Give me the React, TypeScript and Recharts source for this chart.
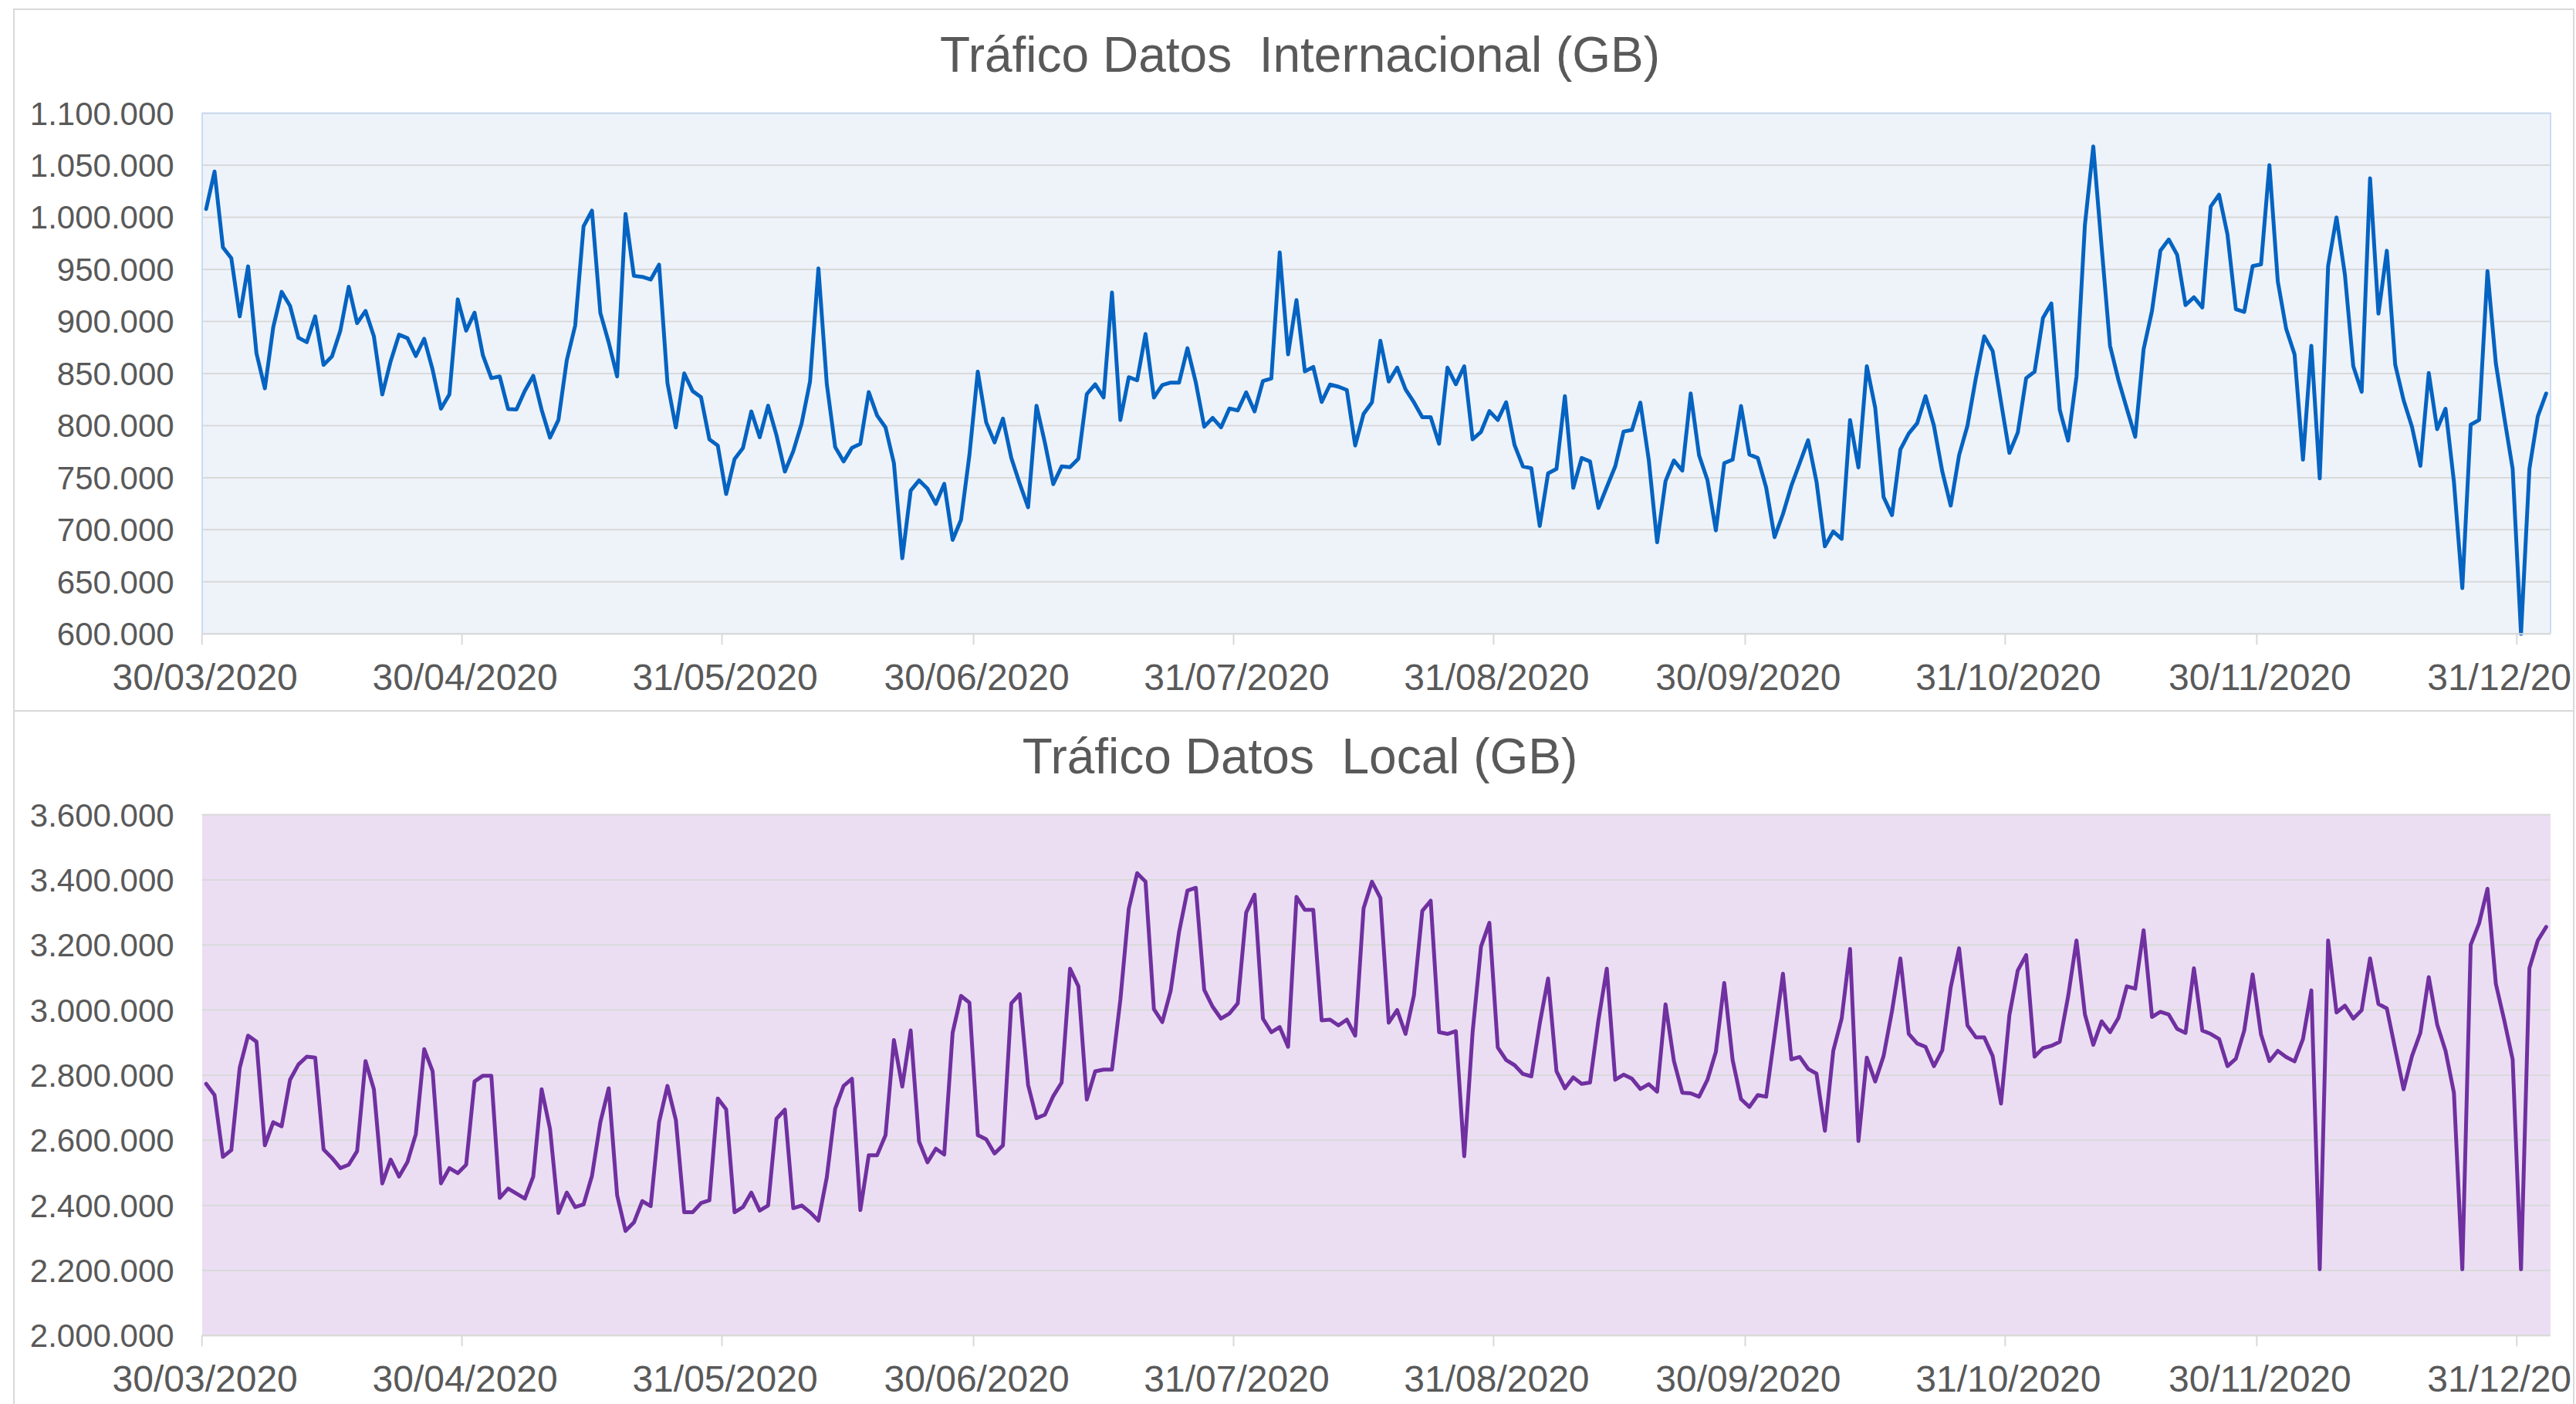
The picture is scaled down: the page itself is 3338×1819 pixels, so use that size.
import { LineChart, Line, XAxis, YAxis, CartesianGrid } from 'recharts'

// day index 0 = 30/03/2020, one point per day
const tickDays = [0, 31, 62, 92, 123, 154, 184, 215, 245, 276]
const tickLabels = [
  '30/03/2020', '30/04/2020', '31/05/2020', '30/06/2020', '31/07/2020',
  '31/08/2020', '30/09/2020', '31/10/2020', '30/11/2020', '31/12/2020',
]

const intlTicks = [600000, 650000, 700000, 750000, 800000, 850000, 900000, 950000, 1000000, 1050000, 1100000]
const localTicks = [2000000, 2200000, 2400000, 2600000, 2800000, 3000000, 3200000, 3400000, 3600000]

const internacional = [
  1008000, 1043900, 971200, 960700, 904900, 952900, 869400, 835800, 894500, 928400,
  915000, 884400, 880100, 904900, 858300, 866400, 891200, 933300, 898400, 910100,
  885700, 829900, 861900, 887300, 884000, 866800, 883400, 853700, 816200, 829900,
  921200, 891200, 908500, 867400, 845600, 847200, 815900, 815500, 833500, 847800,
  815200, 788500, 805400, 862900, 896100, 991400, 1006400, 908200, 879800, 847200,
  1003100, 943800, 942800, 940200, 954500, 841000, 798300, 850100, 833200, 827300,
  786800, 780900, 734300, 767900, 778400, 813600, 788800, 819100, 790800, 755900,
  775400, 802200, 842300, 950900, 840000, 779300, 765600, 778700, 782600, 832200,
  809700, 798300, 764000, 672700, 737600, 747400, 739600, 724900, 744100, 690300,
  709500, 771500, 851800, 803200, 783900, 806700, 768900, 744400, 721600, 819100,
  783600, 743800, 760800, 760100, 768300, 830300, 839700, 827000, 927800, 805400,
  846500, 843500, 887900, 827000, 839000, 841300, 841300, 874300, 841300, 798900,
  807400, 798300, 816500, 814600, 831900, 813600, 842900, 845200, 966300, 868400,
  920600, 852100, 856300, 822700, 839400, 837400, 834200, 780900, 811300, 822400,
  881400, 842300, 855700, 834800, 822400, 808100, 808100, 782600, 855700, 839700,
  857000, 786800, 794000, 813900, 805400, 822400, 781300, 760800, 759100, 703700,
  754200, 758500, 828300, 740200, 768900, 765600, 720900, 741000, 760800, 794300,
  795900, 822100, 767300, 688000, 746700, 766600, 756800, 830900, 771500, 747700,
  699400, 764000, 767300, 818800, 772200, 768900, 740500, 692900, 715100, 742200,
  764000, 785900, 746100, 684100, 698400, 691300, 805400, 759800, 857000, 817200,
  731400, 714100, 777100, 792400, 802200, 828300, 799900, 755900, 723200, 771500,
  799900, 845600, 885700, 871700, 822700, 773800, 793400, 845600, 851800, 903300,
  917300, 815200, 785600, 847200, 992400, 1068000, 971100, 876600, 843900, 816200,
  789300, 873300, 910100, 967900, 978700, 964000, 915700, 923200, 913400, 1010300,
  1021700, 983500, 911800, 909200, 953200, 954800, 1050100, 938500, 892900, 868400,
  767300, 876600, 749300, 953200, 999900, 945100, 857000, 832500, 1037400, 907500,
  967900, 858600, 824400, 798900, 761400, 850500, 796600, 816200, 746100, 644000,
  800900, 805400, 948300, 859600, 808100, 758500, 600000, 758500, 809000, 830900,
]

const local = [
  2773300, 2738900, 2548900, 2569800, 2822400, 2921500, 2902700, 2584400, 2655400, 2642800,
  2785800, 2832800, 2856800, 2853700, 2571900, 2545800, 2514400, 2524900, 2566600, 2843200,
  2756600, 2467500, 2540500, 2488400, 2533200, 2618800, 2879800, 2811900, 2467500, 2514400,
  2498800, 2524900, 2780600, 2798400, 2798400, 2422600, 2451800, 2436200, 2420500, 2488400,
  2756600, 2634500, 2376700, 2439300, 2394400, 2402800, 2490500, 2655400, 2759700, 2431000,
  2321300, 2347400, 2413200, 2397500, 2655400, 2767000, 2662700, 2378700, 2378700, 2406900,
  2415300, 2728400, 2695000, 2378700, 2394400, 2439300, 2383900, 2399600, 2665800, 2694000,
  2391300, 2399600, 2378700, 2352700, 2486300, 2697100, 2767000, 2789000, 2385500, 2554100,
  2554100, 2615700, 2907900, 2764900, 2937200, 2595900, 2532200, 2574000, 2556200, 2929900,
  3043600, 3022800, 2615700, 2603200, 2559300, 2584400, 3020700, 3048900, 2770200, 2667900,
  2678300, 2735700, 2777500, 3127200, 3072900, 2725300, 2811900, 2817200, 2817200, 3031100,
  3310900, 3420500, 3394400, 3002900, 2963300, 3059300, 3239900, 3367200, 3375600, 3062400,
  3010300, 2973700, 2989400, 3020700, 3299400, 3354700, 2973700, 2932000, 2947600, 2887100,
  3347400, 3307700, 3307700, 2968500, 2970600, 2952800, 2970600, 2921500, 3312900, 3394400,
  3344300, 2961200, 2999800, 2926700, 3044700, 3304600, 3335900, 2932000, 2926700, 2935100,
  2551000, 2932000, 3195000, 3268100, 2885000, 2846400, 2830700, 2803600, 2796300, 2958100,
  3096900, 2811900, 2759700, 2793100, 2773300, 2777500, 2968500, 3127200, 2785800, 2801500,
  2789000, 2757600, 2772300, 2749300, 3017600, 2843200, 2746200, 2744100, 2733700, 2785800,
  2871400, 3083300, 2846400, 2726300, 2702300, 2738900, 2733700, 2921500, 3111500, 2848500,
  2855800, 2819300, 2804600, 2629300, 2874600, 2973700, 3187700, 2597900, 2853700, 2780600,
  2858900, 2996700, 3158500, 2926700, 2897500, 2887100, 2827600, 2876600, 3069800, 3189800,
  2952800, 2916300, 2916300, 2858900, 2712800, 2984200, 3121900, 3168900, 2856800, 2882900,
  2890200, 2902700, 3041600, 3213800, 2987300, 2893300, 2965400, 2932000, 2975800, 3072900,
  3065600, 3245100, 2978900, 2994600, 2986200, 2942400, 2929900, 3128200, 2937200, 2926700,
  2911100, 2827600, 2850600, 2937200, 3109400, 2924700, 2843200, 2874600, 2855800, 2842200,
  2911100, 3060400, 2203400, 3213800, 2992500, 3013400, 2973700, 2999800, 3158500, 3018600,
  3005000, 2879800, 2756600, 2858900, 2929900, 3101100, 2956000, 2874600, 2746200, 2203400,
  3200200, 3266000, 3372500, 3080200, 2968500, 2848500, 2203400, 3128200, 3213800, 3255500,
]

const TEXT = '#595959'
const GRID = '#D9D9D9'

// plot box inside each chart block (page px)
const PLOT_LEFT = 261.7
const PLOT_TOP = 146.6
const PLOT_W = 3043.1
const PLOT_H = 674.7
const CHART_W = 3333
const CHART_H = 921
const Y_AXIS_W = 200
const X_AXIS_H = 80

const formatGB = (v: number) => String(v).replace(/\B(?=(\d{3})+(?!\d))/g, '.')
const formatDay = (d: number) => tickLabels[tickDays.indexOf(d)] ?? ''

interface TraficoChartProps {
  title: string
  values: number[]
  yTicks: number[]
  color: string
  plotFill: string
  plotBorder?: string
  offsetY: number
}

function TraficoChart({ title, values, yTicks, color, plotFill, plotBorder, offsetY }: TraficoChartProps) {
  const data = values.map((v, i) => ({ t: i + 0.5, v }))

  return (
    <>
      <div
        style={{
          position: 'absolute', left: 17, top: offsetY + 11, width: 3319, height: 911,
          border: `2px solid ${GRID}`, boxSizing: 'border-box',
        }}
      />
      <div
        style={{
          position: 'absolute', left: 25, width: 3319, top: offsetY + 39,
          textAlign: 'center', fontSize: 64, lineHeight: '64px', color: TEXT, whiteSpace: 'pre',
        }}
      >
        {title}
      </div>
      <div
        style={{
          position: 'absolute', left: PLOT_LEFT, top: offsetY + PLOT_TOP,
          width: PLOT_W, height: PLOT_H, background: plotFill,
        }}
      />
      <div style={{ position: 'absolute', left: 0, top: offsetY }}>
        <LineChart
          width={CHART_W}
          height={CHART_H}
          data={data}
          margin={{
            top: PLOT_TOP,
            left: PLOT_LEFT - Y_AXIS_W,
            right: CHART_W - PLOT_LEFT - PLOT_W,
            bottom: CHART_H - PLOT_TOP - PLOT_H - X_AXIS_H,
          }}
        >
          <CartesianGrid vertical={false} stroke={GRID} strokeWidth={2} />
          <XAxis
            type="number"
            dataKey="t"
            domain={[0, 280]}
            ticks={tickDays}
            interval={0}
            tickFormatter={formatDay}
            height={X_AXIS_H}
            axisLine={{ stroke: GRID, strokeWidth: 2 }}
            tickLine={{ stroke: GRID, strokeWidth: 2 }}
            tickSize={14}
            tickMargin={25}
            tick={{ fill: TEXT, fontSize: 48, dx: 4 }}
          />
          <YAxis
            type="number"
            domain={[yTicks[0], yTicks[yTicks.length - 1]]}
            ticks={yTicks}
            interval={0}
            tickFormatter={formatGB}
            width={Y_AXIS_W}
            axisLine={false}
            tickLine={false}
            tickSize={0}
            tickMargin={36}
            tick={{ fill: TEXT, fontSize: 42 }}
          />
          <Line
            type="linear"
            dataKey="v"
            stroke={color}
            strokeWidth={5}
            strokeLinejoin="round"
            strokeLinecap="round"
            dot={false}
            activeDot={false}
            isAnimationActive={false}
          />
        </LineChart>
      </div>
      {plotBorder && (
        <div
          style={{
            position: 'absolute', left: PLOT_LEFT - 1, top: offsetY + PLOT_TOP - 1,
            width: PLOT_W + 2, height: PLOT_H + 1, boxSizing: 'border-box',
            borderTop: `2px solid ${plotBorder}`, borderLeft: `2px solid ${plotBorder}`,
            borderRight: `2px solid ${plotBorder}`, pointerEvents: 'none',
          }}
        />
      )}
    </>
  )
}

export default function App() {
  return (
    <div
      style={{
        position: 'absolute', left: 0, top: 0, width: 3338, height: 1819, overflow: 'hidden',
        background: '#FFFFFF', fontFamily: '"Liberation Sans", Arial, sans-serif',
      }}
    >
      <TraficoChart
        title="Tráfico Datos  Internacional (GB)"
        values={internacional}
        yTicks={intlTicks}
        color="#0563C1"
        plotFill="#EEF3FA"
        plotBorder="#C9DDF1"
        offsetY={0}
      />
      <TraficoChart
        title="Tráfico Datos  Local (GB)"
        values={local}
        yTicks={localTicks}
        color="#7030A0"
        plotFill="#EBDEF3"
        offsetY={909}
      />
    </div>
  )
}
